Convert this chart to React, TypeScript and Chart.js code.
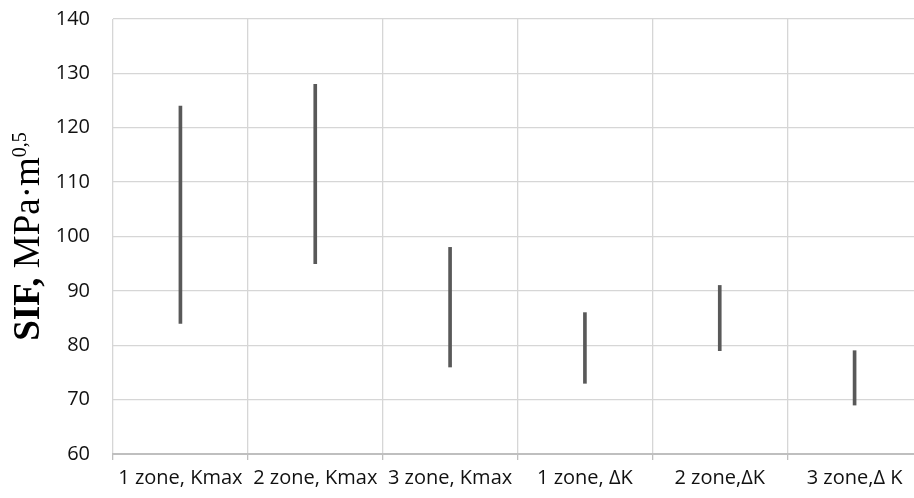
import React, { useEffect, useRef } from "react";
import { Chart, registerables } from "chart.js";

Chart.register(...registerables);

const categories = ["1 zone, Kmax", "2 zone, Kmax", "3 zone, Kmax", "1 zone, ΔK", "2 zone,ΔK", "3 zone,Δ K"];
const lowValues = [84, 95, 76, 73, 79, 69];
const highValues = [124, 128, 98, 86, 91, 79];
const yMin = 60;
const yMax = 140;
const yStep = 10;

const titlePlugin = {
  id: "yTitle",
  afterDraw(chart: any) {
    const ctx = chart.ctx;
    const area = chart.chartArea;
    const cy = (area.top + area.bottom) / 2;
    ctx.save();
    ctx.translate(39, cy);
    ctx.rotate(-Math.PI / 2);
    ctx.fillStyle = "#000";
    ctx.textBaseline = "alphabetic";
    ctx.textAlign = "left";
    const boldFont = "bold 37px 'Liberation Serif', 'Times New Roman', serif";
    const regFont = "37px 'Liberation Serif', 'Times New Roman', serif";
    const supFont = "20px 'Liberation Serif', 'Times New Roman', serif";
    const p1 = "SIF, ";
    const p2 = "MPa·m";
    const p3 = "0,5";
    ctx.font = boldFont;
    const w1 = ctx.measureText(p1).width;
    ctx.font = regFont;
    const w2 = ctx.measureText(p2).width;
    ctx.font = supFont;
    const w3 = ctx.measureText(p3).width;
    let x = -(w1 + w2 + w3) / 2;
    ctx.font = boldFont;
    ctx.fillText(p1, x, 0);
    x += w1;
    ctx.font = regFont;
    ctx.fillText(p2, x, 0);
    x += w2;
    ctx.font = supFont;
    ctx.fillText(p3, x, -13);
    ctx.restore();
  },
};

export default function App() {
  const ref = useRef<HTMLCanvasElement | null>(null);

  useEffect(() => {
    document.body.style.margin = "0";
    const canvas = ref.current;
    if (!canvas) return;
    const data = categories.map((_, i) => [lowValues[i], highValues[i]]);
    const chart = new Chart(canvas, {
      type: "bar",
      data: {
        labels: categories,
        datasets: [
          {
            data: data as any,
            backgroundColor: "#595959",
            borderWidth: 0,
            barThickness: 3,
          },
        ],
      },
      options: {
        responsive: false,
        animation: false,
        devicePixelRatio: 1,
        layout: { padding: { top: 19, right: 8, left: 0, bottom: 0 } },
        plugins: {
          legend: { display: false },
          tooltip: { enabled: false },
        },
        scales: {
          x: {
            offset: true,
            grid: {
              offset: true,
              color: "#d6d6d6",
              lineWidth: 1.3,
              tickColor: "#bfbfbf",
              tickLength: 6,
              drawTicks: true,
            },
            border: { display: true, color: "#bfbfbf", width: 2 },
            ticks: {
              autoSkip: false,
              maxRotation: 0,
              minRotation: 0,
              color: "#111",
              padding: 6,
              font: { family: "'Open Sans', sans-serif", size: 20 },
            },
            afterFit(scale: any) {
              scale.height = 44;
              scale.paddingLeft = 0;
              scale.paddingRight = 0;
            },
          },
          y: {
            min: yMin,
            max: yMax,
            grid: { color: "#d6d6d6", lineWidth: 1.3, drawTicks: false },
            border: { display: false },
            ticks: {
              stepSize: yStep,
              color: "#111",
              padding: 23,
              font: { family: "'Open Sans', sans-serif", size: 20 },
            },
            afterFit(scale: any) {
              scale.width = 113;
              scale.paddingTop = 0;
              scale.paddingBottom = 0;
            },
          },
        },
      },
      plugins: [titlePlugin],
    });
    return () => chart.destroy();
  }, []);

  return (
    <div style={{ width: 914, height: 498, overflow: "hidden", position: "relative" }}>
      <canvas ref={ref} width={930} height={498} style={{ display: "block" }} />
    </div>
  );
}
